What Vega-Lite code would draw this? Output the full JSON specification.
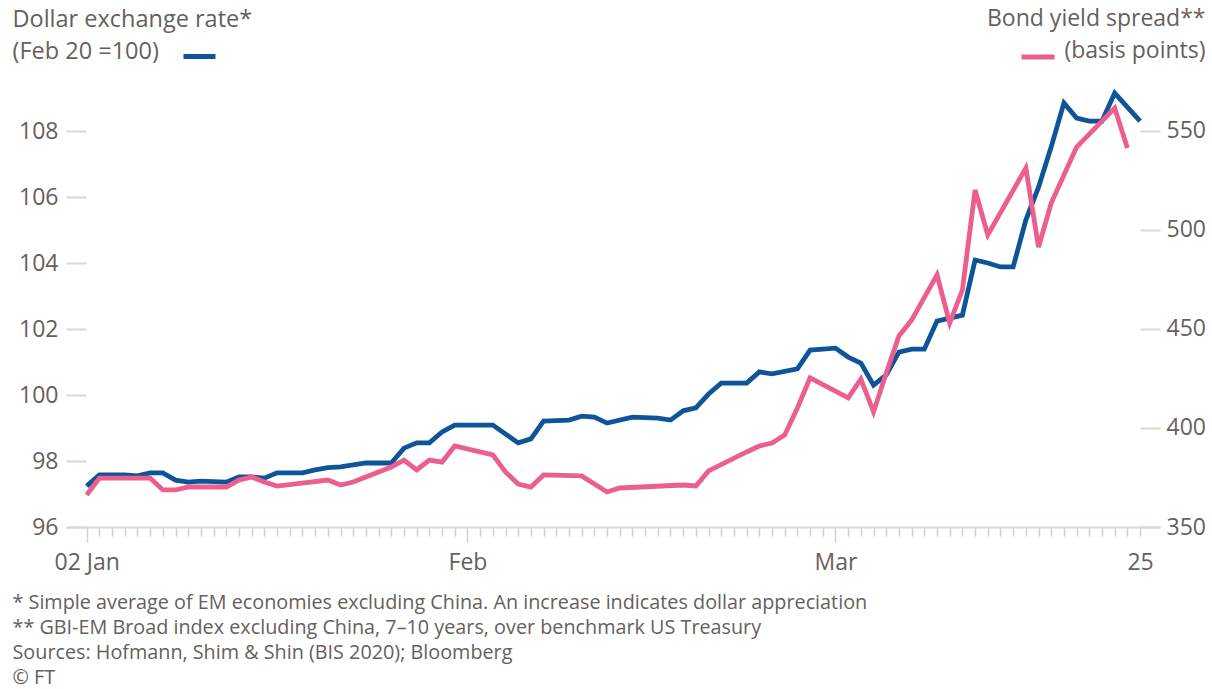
{
  "$schema": "https://vega.github.io/schema/vega-lite/v6.json",
  "width": 1094,
  "height": 442,
  "autosize": {"type": "none"},
  "padding": {"left": 66, "top": 85, "right": 52, "bottom": 162},
  "background": "white",
  "config": {
    "view": {"stroke": null},
    "font": "Open Sans",
    "axis": {"labelColor": "#66605c", "titleColor": "#66605c", "titleFontWeight": "normal", "grid": false}
  },
  "datasets": {
    "fx": [
      {"date": "2020-01-02", "value": 97.24},
      {"date": "2020-01-03", "value": 97.58},
      {"date": "2020-01-05", "value": 97.58},
      {"date": "2020-01-06", "value": 97.55},
      {"date": "2020-01-07", "value": 97.64},
      {"date": "2020-01-08", "value": 97.64},
      {"date": "2020-01-09", "value": 97.42},
      {"date": "2020-01-10", "value": 97.36},
      {"date": "2020-01-11", "value": 97.39},
      {"date": "2020-01-13", "value": 97.36},
      {"date": "2020-01-14", "value": 97.52},
      {"date": "2020-01-15", "value": 97.52},
      {"date": "2020-01-16", "value": 97.48},
      {"date": "2020-01-17", "value": 97.64},
      {"date": "2020-01-19", "value": 97.64},
      {"date": "2020-01-20", "value": 97.73},
      {"date": "2020-01-21", "value": 97.8},
      {"date": "2020-01-22", "value": 97.82},
      {"date": "2020-01-23", "value": 97.88},
      {"date": "2020-01-24", "value": 97.94},
      {"date": "2020-01-26", "value": 97.94},
      {"date": "2020-01-27", "value": 98.39},
      {"date": "2020-01-28", "value": 98.55},
      {"date": "2020-01-29", "value": 98.55},
      {"date": "2020-01-30", "value": 98.88},
      {"date": "2020-01-31", "value": 99.09},
      {"date": "2020-02-03", "value": 99.09},
      {"date": "2020-02-05", "value": 98.55},
      {"date": "2020-02-06", "value": 98.67},
      {"date": "2020-02-07", "value": 99.21},
      {"date": "2020-02-09", "value": 99.24},
      {"date": "2020-02-10", "value": 99.36},
      {"date": "2020-02-11", "value": 99.33},
      {"date": "2020-02-12", "value": 99.15},
      {"date": "2020-02-14", "value": 99.33},
      {"date": "2020-02-16", "value": 99.3},
      {"date": "2020-02-17", "value": 99.24},
      {"date": "2020-02-18", "value": 99.52},
      {"date": "2020-02-19", "value": 99.61},
      {"date": "2020-02-20", "value": 100.03},
      {"date": "2020-02-21", "value": 100.36},
      {"date": "2020-02-23", "value": 100.36},
      {"date": "2020-02-24", "value": 100.7},
      {"date": "2020-02-25", "value": 100.64},
      {"date": "2020-02-27", "value": 100.79},
      {"date": "2020-02-28", "value": 101.36},
      {"date": "2020-03-01", "value": 101.42},
      {"date": "2020-03-02", "value": 101.15},
      {"date": "2020-03-03", "value": 100.97},
      {"date": "2020-03-04", "value": 100.3},
      {"date": "2020-03-05", "value": 100.61},
      {"date": "2020-03-06", "value": 101.3},
      {"date": "2020-03-07", "value": 101.39},
      {"date": "2020-03-08", "value": 101.39},
      {"date": "2020-03-09", "value": 102.24},
      {"date": "2020-03-10", "value": 102.33},
      {"date": "2020-03-11", "value": 102.42},
      {"date": "2020-03-12", "value": 104.09},
      {"date": "2020-03-13", "value": 104.0},
      {"date": "2020-03-14", "value": 103.88},
      {"date": "2020-03-15", "value": 103.88},
      {"date": "2020-03-16", "value": 105.3},
      {"date": "2020-03-17", "value": 106.3},
      {"date": "2020-03-18", "value": 107.52},
      {"date": "2020-03-19", "value": 108.85},
      {"date": "2020-03-20", "value": 108.39},
      {"date": "2020-03-21", "value": 108.3},
      {"date": "2020-03-22", "value": 108.3},
      {"date": "2020-03-23", "value": 109.15},
      {"date": "2020-03-25", "value": 108.3}
    ],
    "spread": [
      {"date": "2020-01-02", "value": 366.2},
      {"date": "2020-01-03", "value": 374.7},
      {"date": "2020-01-07", "value": 374.7},
      {"date": "2020-01-08", "value": 368.7},
      {"date": "2020-01-09", "value": 368.7},
      {"date": "2020-01-10", "value": 370.2},
      {"date": "2020-01-13", "value": 370.2},
      {"date": "2020-01-14", "value": 373.7},
      {"date": "2020-01-15", "value": 375.3},
      {"date": "2020-01-16", "value": 372.7},
      {"date": "2020-01-17", "value": 370.7},
      {"date": "2020-01-21", "value": 373.7},
      {"date": "2020-01-22", "value": 371.2},
      {"date": "2020-01-23", "value": 372.7},
      {"date": "2020-01-24", "value": 375.3},
      {"date": "2020-01-26", "value": 380.3},
      {"date": "2020-01-27", "value": 383.8},
      {"date": "2020-01-28", "value": 378.8},
      {"date": "2020-01-29", "value": 383.8},
      {"date": "2020-01-30", "value": 382.8},
      {"date": "2020-01-31", "value": 390.9},
      {"date": "2020-02-03", "value": 386.4},
      {"date": "2020-02-04", "value": 377.8},
      {"date": "2020-02-05", "value": 371.7},
      {"date": "2020-02-06", "value": 370.2},
      {"date": "2020-02-07", "value": 376.3},
      {"date": "2020-02-10", "value": 375.8},
      {"date": "2020-02-12", "value": 367.7},
      {"date": "2020-02-13", "value": 369.7},
      {"date": "2020-02-18", "value": 371.2},
      {"date": "2020-02-19", "value": 370.7},
      {"date": "2020-02-20", "value": 378.3},
      {"date": "2020-02-23", "value": 387.9},
      {"date": "2020-02-24", "value": 390.9},
      {"date": "2020-02-25", "value": 392.4},
      {"date": "2020-02-26", "value": 396.5},
      {"date": "2020-02-27", "value": 410.1},
      {"date": "2020-02-28", "value": 425.3},
      {"date": "2020-03-02", "value": 415.2},
      {"date": "2020-03-03", "value": 424.7},
      {"date": "2020-03-04", "value": 408.1},
      {"date": "2020-03-05", "value": 427.8},
      {"date": "2020-03-06", "value": 446.5},
      {"date": "2020-03-07", "value": 454.5},
      {"date": "2020-03-09", "value": 477.3},
      {"date": "2020-03-10", "value": 453.0},
      {"date": "2020-03-11", "value": 469.7},
      {"date": "2020-03-12", "value": 520.2},
      {"date": "2020-03-13", "value": 497.5},
      {"date": "2020-03-16", "value": 531.3},
      {"date": "2020-03-17", "value": 491.4},
      {"date": "2020-03-18", "value": 513.6},
      {"date": "2020-03-20", "value": 541.9},
      {"date": "2020-03-23", "value": 561.6},
      {"date": "2020-03-24", "value": 541.4}
    ]
  },
  "layer": [
    {
      "data": {"name": "fx"},
      "mark": {"type": "line", "strokeWidth": 4.8},
      "encoding": {
        "x": {
          "field": "date",
          "type": "temporal",
          "scale": {
            "type": "utc",
            "domain": [
              {"year": 2019, "month": 12, "date": 31, "hours": 8, "minutes": 53, "utc": true},
              {"year": 2020, "month": 3, "date": 26, "hours": 13, "minutes": 41, "utc": true}
            ]
          },
          "axis": {
            "tickCount": {"interval": "day", "step": 1},
            "domainColor": "#dcd6cc",
            "domainWidth": 2,
            "tickColor": "#d6cfc5",
            "tickWidth": 1.5,
            "tickSize": {"condition": {"test": "(utcdate(datum.value)==1 && utcmonth(datum.value)>0) || (utcmonth(datum.value)==0 && utcdate(datum.value)==2)", "value": 15}, "value": 9},
            "tickOpacity": {"condition": {"test": "datum.value < utc(2020,0,2) || datum.value > utc(2020,2,25)", "value": 0}, "value": 1},
            "labelPadding": {"condition": {"test": "(utcdate(datum.value)==1 && utcmonth(datum.value)>0) || (utcmonth(datum.value)==0 && utcdate(datum.value)==2)", "value": 9}, "value": 15},
            "labelExpr": "(utcmonth(datum.value)==0 && utcdate(datum.value)==2) ? '02 Jan' : (utcdate(datum.value)==1 && utcmonth(datum.value)==1) ? 'Feb' : (utcdate(datum.value)==1 && utcmonth(datum.value)==2) ? 'Mar' : (utcmonth(datum.value)==2 && utcdate(datum.value)==25) ? '25' : ''",
            "labelOverlap": false,
            "labelFlush": false,
            "labelFontSize": 23,
            "title": [
              "* Simple average of EM economies excluding China. An increase indicates dollar appreciation",
              "** GBI-EM Broad index excluding China, 7–10 years, over benchmark US Treasury",
              "Sources: Hofmann, Shim & Shin (BIS 2020); Bloomberg",
              "© FT"
            ],
            "titleFontSize": 19.8,
            "titleLineHeight": 25.3,
            "titleAlign": "left",
            "titleBaseline": "top",
            "titleAngle": 0,
            "titleX": -54,
            "titleY": 65
          }
        },
        "y": {
          "field": "value",
          "type": "quantitative",
          "scale": {"domain": [96, 109.394], "nice": false, "zero": false},
          "axis": {
            "orient": "left",
            "values": [96, 98, 100, 102, 104, 106, 108],
            "domain": false,
            "tickSize": -20,
            "tickWidth": 2,
            "tickColor": "#dcd6cc",
            "labelPadding": 28,
            "labelFontSize": 23,
            "title": ["Dollar exchange rate*", "(Feb 20 =100)"],
            "titleFontSize": 23.5,
            "titleLineHeight": 32,
            "titleAngle": 0,
            "titleAlign": "left",
            "titleBaseline": "top",
            "titleX": -54,
            "titleY": -78
          }
        },
        "color": {
          "datum": "Dollar exchange rate",
          "scale": {"range": ["#0f5499"]},
          "legend": {
            "orient": "none",
            "legendX": 115,
            "legendY": -47,
            "title": null,
            "padding": 0,
            "symbolType": "stroke",
            "symbolSize": 1024,
            "symbolStrokeWidth": 5,
            "labelExpr": "''",
            "labelOffset": 0
          }
        }
      }
    },
    {
      "data": {"name": "spread"},
      "mark": {"type": "line", "strokeWidth": 4.8},
      "encoding": {
        "x": {"field": "date", "type": "temporal"},
        "y": {
          "field": "value",
          "type": "quantitative",
          "scale": {"domain": [350, 573.23], "nice": false, "zero": false},
          "axis": {
            "orient": "right",
            "values": [350, 400, 450, 500, 550],
            "domain": false,
            "tickSize": -20,
            "tickWidth": 2,
            "tickColor": "#dcd6cc",
            "labelPadding": 26,
            "labelFontSize": 23,
            "title": ["Bond yield spread**", "(basis points)"],
            "titleFontSize": 23,
            "titleLineHeight": 32,
            "titleAngle": 0,
            "titleAlign": "right",
            "titleBaseline": "top",
            "titleX": 45,
            "titleY": -78
          }
        },
        "color": {
          "datum": "Bond yield spread",
          "scale": {"range": ["#eb5e8d"]},
          "legend": {
            "orient": "none",
            "legendX": 953,
            "legendY": -47,
            "title": null,
            "padding": 0,
            "symbolType": "stroke",
            "symbolSize": 1089,
            "symbolStrokeWidth": 5,
            "labelExpr": "''",
            "labelOffset": 0
          }
        }
      }
    }
  ],
  "resolve": {
    "scale": {"y": "independent", "color": "independent"},
    "legend": {"color": "independent"}
  }
}
